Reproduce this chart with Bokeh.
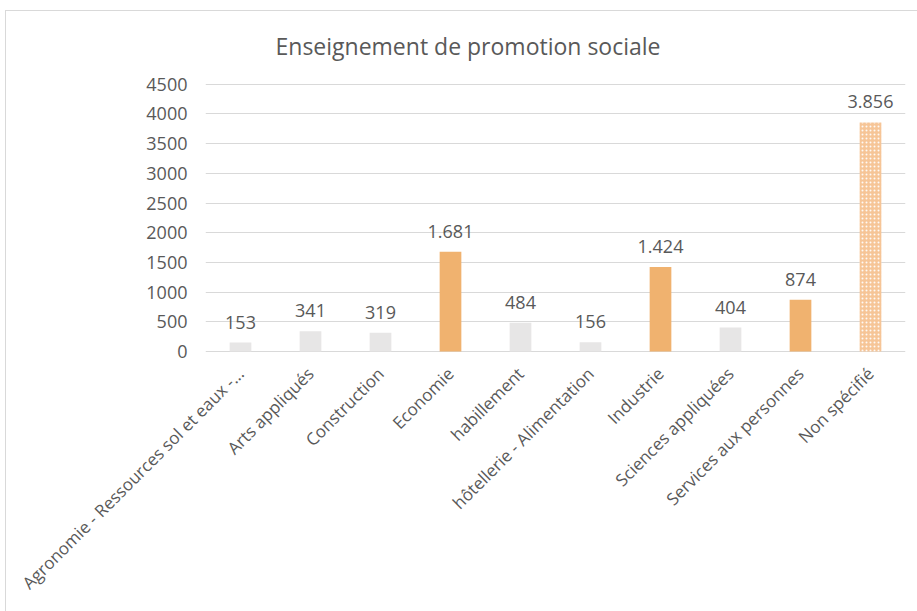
import math
from bokeh.plotting import figure
from bokeh.models import ColumnDataSource, FactorRange, Range1d, FixedTicker, Title, InlineStyleSheet
from bokeh.core.properties import value
from bokeh.embed import file_html
from bokeh.resources import INLINE

categories = [
    "Agronomie - Ressources sol et eaux -...",
    "Arts appliqués",
    "Construction",
    "Economie",
    "habillement",
    "hôtellerie - Alimentation",
    "Industrie",
    "Sciences appliquées",
    "Services aux personnes",
    "Non spécifié",
]
values = [153, 341, 319, 1681, 484, 156, 1424, 404, 874, 3856]
highlight = [False, False, False, True, False, False, True, False, True, False]
unspecified = [False] * 9 + [True]
y_ticks = [0, 500, 1000, 1500, 2000, 2500, 3000, 3500, 4000, 4500]
title_text = "Enseignement de promotion sociale"

GRAY = "#e7e6e6"
ORANGE = "#f0b26f"
TXT = "#595959"
FONT = "Open Sans"

labels = [f"{v:,}".replace(",", ".") for v in values]

main_idx = [i for i in range(len(categories)) if not unspecified[i]]
src = ColumnDataSource(dict(
    x=[categories[i] for i in main_idx],
    top=[values[i] for i in main_idx],
    color=[ORANGE if highlight[i] else GRAY for i in main_idx],
))
src_u = ColumnDataSource(dict(
    x=[categories[i] for i in range(len(categories)) if unspecified[i]],
    top=[values[i] for i in range(len(categories)) if unspecified[i]],
))
src_lab = ColumnDataSource(dict(x=categories, y=values, text=labels))

p = figure(
    x_range=FactorRange(*categories, range_padding=0),
    y_range=Range1d(-15, 4697),
    width=913, height=606,
    min_border_left=205, min_border_right=8, min_border_top=72, min_border_bottom=254,
    output_backend="svg", toolbar_location=None,
)
p.title = Title(text=title_text, align="left", offset=70,
                text_font=FONT, text_font_size="23px", text_color=TXT,
                text_font_style="normal", standoff=22)

p.outline_line_color = None
p.background_fill_color = "white"
p.border_fill_color = "white"

p.xgrid.grid_line_color = None
p.ygrid.grid_line_color = "#d9d9d9"
p.ygrid.grid_line_width = 1
p.yaxis.ticker = FixedTicker(ticks=y_ticks)

for ax in (p.xaxis[0], p.yaxis[0]):
    ax.axis_line_color = None
    ax.major_tick_line_color = None
    ax.minor_tick_line_color = None
    ax.major_tick_in = 0
    ax.major_tick_out = 0
    ax.major_label_text_color = TXT
    ax.major_label_text_font = FONT

p.yaxis.major_label_text_font_size = "18px"
p.yaxis.major_label_standoff = 18
p.xaxis.major_label_text_font_size = "17px"
p.xaxis.major_label_orientation = math.pi / 4
p.xaxis.major_label_standoff = 18

p.vbar(x="x", top="top", width=0.31, bottom=0, source=src,
       fill_color="color", line_color=None)
p.vbar(x="x", top="top", width=0.31, bottom=0, source=src_u,
       fill_color="#f6c597", line_color=None,
       hatch_pattern="dot", hatch_color="white", hatch_scale=4, hatch_weight=1, hatch_alpha=0.9)

p.text(x="x", y="y", text="text", source=src_lab,
       text_align="center", text_baseline="bottom", y_offset=-14,
       text_font=value(FONT), text_font_size="18px", text_color=TXT)

p.stylesheets = [InlineStyleSheet(css="""
:host { position: relative; }
:host::after {
  content: "";
  position: absolute;
  left: 5px; top: 10px; right: -40px; bottom: -40px;
  border-left: 1.5px solid #d9d9d9;
  border-top: 1.5px solid #d9d9d9;
  pointer-events: none;
}
""")]

open("out.html", "w").write(file_html(p, INLINE))
